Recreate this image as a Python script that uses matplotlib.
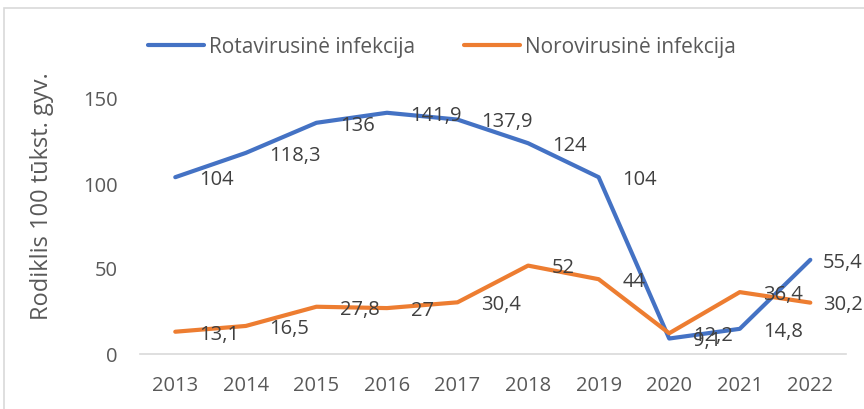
import matplotlib.pyplot as plt
from matplotlib.patches import Rectangle

plt.rcParams['font.family'] = ['Open Sans', 'DejaVu Sans']

metai = [2013, 2014, 2015, 2016, 2017, 2018, 2019, 2020, 2021, 2022]
rota = [104, 118.3, 136, 141.9, 137.9, 124, 104, 9.1, 14.8, 55.4]
noro = [13.1, 16.5, 27.8, 27, 30.4, 52, 44, 12.2, 36.4, 30.2]
rota_pav = 'Rotavirusinė infekcija'
noro_pav = 'Norovirusinė infekcija'
y_pav = 'Rodiklis 100 tūkst. gyv.'

W, H = 864, 409
fig = plt.figure(figsize=(W / 100, H / 100), dpi=100)
ax = fig.add_axes([140 / W, 1 - 354 / H, 705.6 / W, 280.5 / H])

fs = 14.5
ax.plot(metai, rota, color='#4472C4', lw=3, solid_capstyle='round', label=rota_pav)
ax.plot(metai, noro, color='#ED7D31', lw=3, solid_capstyle='round', label=noro_pav)

def fmt(v):
    return f'{v:g}'.replace('.', ',')

# etiketės dešinėje nuo taško, paskutinės pastumtos į vidų
for serija in (rota, noro):
    for i, (x, v) in enumerate(zip(metai, serija)):
        dx = 9 if i == len(metai) - 1 else 17
        ax.annotate(fmt(v), (x, v), xytext=(dx, -2), textcoords='offset points',
                    ha='left', va='center', fontsize=fs, color='#404040')

ax.set_xlim(2012.5, 2022.5)
ax.set_ylim(0, 165)
ax.set_xticks(metai)
ax.set_yticks([0, 50, 100, 150])
ax.tick_params(length=0, labelsize=fs, labelcolor='#595959')
ax.tick_params(axis='x', pad=16)
ax.tick_params(axis='y', pad=16)
for s in ['top', 'right', 'left']:
    ax.spines[s].set_visible(False)
ax.spines['bottom'].set_color('#D9D9D9')
ax.spines['bottom'].set_linewidth(1.2)

fig.text(42 / W, 1 - 196 / H, y_pav, rotation=90, ha='center', va='center',
         fontsize=17, color='#595959')

fig.legend(loc='center', bbox_to_anchor=(442 / W, 1 - 47 / H), ncol=2, frameon=False,
           fontsize=15, handlelength=2.7, handletextpad=0.24, columnspacing=2.35,
           labelcolor='#595959')

fig.patches.append(Rectangle((4 / W, -0.05), 1.1, 1.05 - 8 / H, transform=fig.transFigure,
                             fill=False, edgecolor='#D9D9D9', lw=1.2))

fig.savefig('out.png', dpi=100)
